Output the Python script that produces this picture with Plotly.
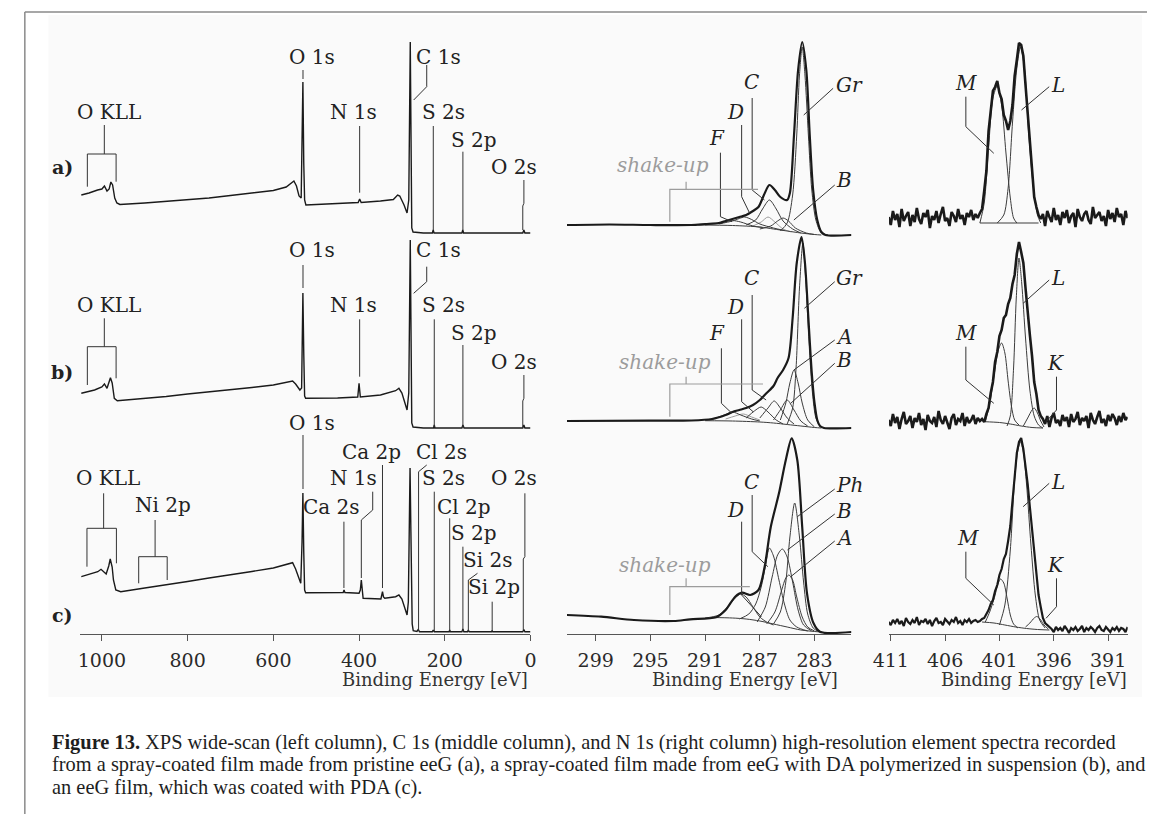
import plotly.graph_objects as go

W, H = 1153, 814

# ---------------- tick labels ----------------
WS_TICKS = [1000, 800, 600, 400, 200, 0]
C1S_TICKS = [299, 295, 291, 287, 283]
N1S_TICKS = [411, 406, 401, 396, 391]

# stacking offsets (arb. intensity units) for spectra a), b), c)
WS_OFFSET = [401, 206, 2]
C1S_OFFSET = [399, 206, 2]
N1S_OFFSET = [411, 206, 4]

# ---------------- wide scans: (binding energy eV, intensity) ----------------
WS_A = [(1048, 38), (1030, 40), (1010, 43), (1000, 44), (994, 47), (988, 42), (983, 44), (979, 51), (975, 48),
        (970, 35), (965, 30), (958, 28.5), (900, 30), (850, 31.5), (800, 33.5), (750, 35), (700, 37.5), (650, 40),
        (600, 42.5), (570, 46), (558, 50), (552, 52), (546, 47), (540, 37), (535, 35), (533, 90), (531, 151),
        (529, 70), (527, 33), (524, 28), (500, 28.5), (450, 29.5), (402, 30.5), (398.6, 34), (395, 30.5),
        (350, 32), (320, 33.5), (310, 38), (305, 37), (295, 28), (288, 20), (284, 33), (282, 100), (280.5, 191),
        (279, 110), (277, 5), (274, 1), (250, 0), (229, 0), (227, 3), (225, 0), (160, 0), (158, 3), (156, 0),
        (18, 0), (15.5, 3), (13, 0), (0, 0)]
WS_B = [(1048, 34.7), (1017, 38), (1000, 41), (994, 44), (988, 39.7), (980, 50.3), (976, 45), (971, 29.7),
        (964, 27.3), (900, 29.5), (850, 31.5), (800, 34), (750, 36), (700, 38.5), (650, 40.5), (600, 43),
        (555, 47), (548, 44), (538, 38), (534, 40), (533, 80), (531, 135), (529, 75), (527, 32), (524.6, 29.7),
        (450, 30), (403, 31), (400, 44.7), (397, 31), (350, 33), (314.6, 37.3), (307, 39.7), (300, 35),
        (288, 18), (284, 35), (282, 100), (280.5, 188), (279, 110), (277, 5), (274, 1), (250, 0), (226, 0),
        (224.5, 3), (223, 0), (160, 0), (157.7, 3), (155, 0), (18, 0), (15.5, 3), (13, 0), (0, 0)]
WS_C = [(1048, 55.3), (1020, 59), (1009.6, 60.3), (1002, 62.7), (996, 60), (990, 58), (984, 66), (980.5, 73),
        (976, 65), (973, 52), (967.5, 42), (956, 40.3), (900, 44), (850, 47), (800, 50.5), (750, 54), (700, 57),
        (650, 60.5), (600, 64), (565, 68), (555, 69.3), (548, 63), (540, 52), (536, 48.7), (533, 90), (531, 139),
        (529, 80), (527, 42), (524.6, 39.3), (444.5, 39.3), (437, 39.5), (435, 42), (433, 39.5), (400, 38.7),
        (397, 42), (394.7, 52), (392, 40), (390.5, 33.7), (349, 33), (347.5, 35), (345.3, 40.3), (343, 35),
        (340, 33.7), (314.6, 35.3), (307, 37), (300, 33), (292, 22), (288, 17), (285, 30), (283, 90), (281, 164),
        (279, 100), (276, 8), (273.6, 1.3), (265, 0.5), (262, 2.5), (259, 0.3), (229, 0.3), (226.8, 2),
        (224.5, 0.3), (190, 0.3), (188.5, 2), (187, 0.3), (160, 0.3), (157.7, 3), (155.5, 0.3), (147, 0.3),
        (145, 2), (143, 0.3), (91, 0.3), (89.4, 1.5), (88, 0.3), (18, 0.3), (15.5, 2.5), (13, 0.3), (0, 0.3)]

# ---------------- C 1s spectra: envelope + fitted components ----------------
C1S_A_ENV = [(301.1, 10), (298, 10.5), (295, 10), (292, 10), (291, 11), (290, 12), (289.5, 14), (289, 16),
             (288.5, 18), (288, 20), (287.5, 24), (287.1, 28), (286.7, 40), (286.3, 50), (285.9, 45),
             (285.5, 38), (285.0, 35), (284.8, 42), (284.5, 100), (284.2, 165), (283.9, 193), (283.6, 165),
             (283.35, 100), (283.1, 45), (282.8, 15), (282.5, 3), (282.2, 0), (280.3, 0)]
C1S_A_GR = [(285.5, 4), (285, 12), (284.6, 40), (284.3, 100), (284.1, 160), (283.9, 188), (283.7, 160),
            (283.45, 100), (283.2, 45), (282.9, 15), (282.5, 2), (282, 0)]
C1S_A_B = [(287, 6), (286.2, 9), (285.7, 14), (285.3, 17), (284.9, 14), (284.4, 7), (283.6, 2), (283, 0.5)]
C1S_A_C = [(288, 10), (287.3, 15), (286.8, 26), (286.3, 35), (285.8, 26), (285.3, 14), (284.6, 6), (284, 2)]
C1S_A_D = [(290, 11), (289, 14), (288.5, 16.5), (288.1, 18), (287.6, 15.5), (287, 11), (286, 7), (285.2, 4.5)]
C1S_A_F = [(291, 10), (290, 12), (289.5, 13.5), (289, 14.5), (288.4, 13), (287.5, 9), (286.8, 7.5)]
C1S_A_SHAKE = [(287.5, 9), (286.9, 13), (286.4, 18), (285.9, 13), (285.3, 6), (284.7, 3)]
C1S_A_BG = [(291.5, 10), (289, 9.5), (287, 8), (286, 6), (285, 4), (284, 2), (283, 0.5), (282.5, 0)]

C1S_B_ENV = [(301.1, 7), (295, 7.3), (292, 7.5), (290.5, 9), (289.5, 13), (289, 16), (288.5, 18), (288, 20),
             (287.5, 23), (287, 28), (286.5, 35), (286, 42), (285.7, 50), (285.3, 58), (284.9, 70),
             (284.6, 110), (284.3, 165), (283.95, 191), (283.7, 165), (283.45, 110), (283.2, 55), (283.0, 25),
             (282.8, 8), (282.6, 2), (282.3, 0), (280.3, 0)]
C1S_B_GR = [(285, 4), (284.6, 20), (284.35, 60), (284.1, 140), (283.85, 185), (283.65, 150), (283.4, 85),
            (283.15, 35), (282.9, 10), (282.6, 2), (282.3, 0)]
C1S_B_A = [(285.5, 8), (285.1, 25), (284.8, 45), (284.5, 58), (284.2, 45), (283.9, 25), (283.5, 8), (283, 1)]
C1S_B_B = [(286, 8), (285.5, 18), (285, 28), (284.5, 18), (284, 7), (283.5, 2)]
C1S_B_C = [(287, 10), (286.4, 20), (285.95, 27), (285.5, 20), (285, 10), (284.5, 4)]
C1S_B_D = [(288, 10), (287.4, 17), (286.9, 21), (286.4, 16), (285.8, 8), (285.3, 4)]
C1S_B_F = [(290.5, 8.5), (289.6, 13), (289, 16), (288.4, 13), (287.6, 9), (287, 7)]
C1S_B_SHAKE = [(289.5, 9), (288.8, 12), (288.2, 14), (287.6, 11), (287, 8)]
C1S_B_BG = [(291, 7.3), (289, 7), (287, 6), (286, 5), (285, 3.5), (284, 2), (283, 0.5), (282.5, 0)]

C1S_C_ENV = [(301.1, 17), (298.6, 15.3), (296.2, 12), (293.3, 11), (292.1, 12.7), (290.2, 14.7), (289.5, 22),
             (288.8, 35.3), (288.3, 39.3), (287.7, 37), (287.1, 42), (286.65, 65), (286.2, 105), (285.6, 138.7),
             (285.1, 172), (284.67, 193.7), (284.26, 172), (283.9, 105), (283.55, 38.7), (283.07, 8.7),
             (282.6, 0.3), (280.3, 0)]
C1S_C_C = [(288.5, 13), (287.8, 18), (287.3, 28), (286.9, 45), (286.6, 65), (286.3, 84), (286.0, 76), (285.6, 52),
           (285.2, 28), (284.8, 12), (284.3, 5), (283.5, 1)]
C1S_C_B = [(287.2, 10), (286.6, 25), (286.1, 55), (285.7, 77), (285.35, 83), (285.0, 75), (284.6, 50), (284.2, 22),
           (283.8, 7), (283.2, 1)]
C1S_C_A = [(286.5, 8), (285.9, 20), (285.4, 42), (285.1, 54), (284.87, 57), (284.6, 52), (284.3, 35), (283.9, 15),
           (283.5, 5), (283, 1)]
C1S_C_PH = [(286, 8), (285.5, 20), (285.1, 50), (284.8, 95), (284.45, 129), (284.1, 95), (283.8, 50), (283.5, 18),
            (283.1, 4), (282.7, 0.5)]
C1S_C_D = [(291, 14), (290, 17), (289.3, 26), (288.8, 34), (288.4, 38), (288, 35), (287.5, 25), (287, 15),
           (286.5, 10), (286, 7)]
C1S_C_BG = [(290.5, 14.5), (289, 14), (288, 13), (287, 11), (286, 8), (285, 5), (284, 2), (283, 0.5), (282.5, 0)]

# ---------------- N 1s spectra: counts on a 0.2 eV grid starting at 411.2 eV ----------------
N1S_START, N1S_STEP = 411.2, 0.2
N1S_A = ([6, -2, 12, 3, 9, -4, 14, 2, 7, 11, -3, 8, 1, 15, 4, -1, 10, 6, 13, -5, 7, 3, 12, 0, 9, 16, 2, 5, -3, 11,
          7, 1, 14, 4, 8, -2, 10, 6, 13, 3, 9, 5]
         + [10, 14, 32, 52, 92, 112, 132, 136, 142, 130, 124, 108, 102, 93, 102, 118, 147, 163, 180, 178, 167, 138,
            112, 78, 52, 26, 16, 8]
         + [4, 9, -3, 12, 6, 1, 15, 3, 8, -2, 11, 5, 13, 0, 7, 10, -4, 14, 6, 2, 9, 12, 3, -1, 16, 5, 8, 11, 2, 7,
            -3, 13, 4, 10, 1, 15, 6, 9, -2, 12, 5])
N1S_B = ([8, 2, 14, 5, 11, -1, 9, 16, 4, 7, 12, 0, 10, 6, 15, 3, 9, -2, 13, 7, 5, 11, 1, 17, 8, 4, 12, 6, -1, 10,
          14, 3, 9, 7, 15, 2, 11, 5, 8, 13, 4, 10, 7, 9]
         + [6, 14, 20, 35, 46, 66, 76, 92, 98, 110, 113, 124, 130, 144, 153, 174, 186, 176, 165, 140, 120, 93, 72,
            46, 34, 18, 12]
         + [9, 4, 12, 1, 10, 15, 5, 8, 2, 13, 7, 11, 1, 14, 6, 9, 16, 3, 10, 7, 12, 0, 15, 8, 4, 11, 17, 5, 9, 2,
            13, 7, 14, 10, 3, 12, 6, 15, 8, 11])
N1S_C = ([8, 5, 10, 7, 11, 6, 9, 4, 12, 8, 6, 10, 7, 13, 5, 9, 8, 11, 6, 10, 4, 9, 12, 7, 8, 5, 11, 9, 6, 10, 8,
          13, 7, 9, 5, 10, 8, 11, 7, 9, 10, 8]
         + [9, 11, 12, 16, 20, 26, 30, 39, 45, 55, 61, 71, 76, 89, 104, 129, 155, 177, 188, 192, 181, 165, 146,
            123, 101, 76, 54, 35, 23, 12, 7, 5, 2]
         + [1, -2, 3, 0, 2, -1, 4, 1, -3, 2, 0, 3, -1, 1, 4, -2, 2, 0, 3, 1, -2, 2, 4, 0, -1, 3, 1, -2, 2, 0, 3, -1,
            2, 1, -2, 3])

N1S_A_M = [(402.8, 0), (402.4, 20), (402.0, 75), (401.6, 125), (401.2, 137), (400.8, 118), (400.4, 70), (400.0, 25),
           (399.7, 5), (399.4, 0)]
N1S_A_L = [(401.2, 0), (400.6, 8), (400.2, 35), (399.8, 100), (399.4, 155), (399.06, 176), (398.7, 155),
           (398.3, 88), (397.9, 38), (397.5, 8), (397.2, 0)]
N1S_A_BASE = [(402.8, 0), (397.4, 0)]
N1S_B_M = [(402.3, 6), (401.9, 24), (401.5, 52), (401.1, 78), (400.8, 85), (400.5, 75), (400.2, 47), (399.9, 22),
           (399.6, 8), (399.2, 3)]
N1S_B_L = [(400.3, 2), (400.0, 12), (399.7, 60), (399.45, 130), (399.2, 170), (398.95, 145), (398.6, 90),
           (398.2, 38), (397.8, 12), (397.4, 3), (397.0, 0)]
N1S_B_K = [(398.8, 2), (398.4, 10), (398.0, 18), (397.8, 20), (397.5, 15), (397.2, 7), (396.9, 1)]
N1S_B_BASE = [(402.4, 6.3), (401, 5.5), (400, 4), (399, 2), (398, 0.5), (397, 0)]
N1S_C_L = [(401.0, 5), (400.5, 25), (400.0, 80), (399.6, 150), (399.3, 180), (399.06, 188), (398.8, 178),
           (398.5, 145), (398.1, 85), (397.7, 35), (397.3, 10), (396.8, 2)]
N1S_C_M = [(402.3, 8), (401.9, 18), (401.5, 31), (401.1, 47), (400.9, 51), (400.6, 47), (400.3, 32), (400.0, 15),
           (399.7, 6), (399.3, 2)]
N1S_C_K = [(398.6, 3), (398.2, 7), (397.8, 12), (397.55, 13.5), (397.2, 10), (396.9, 5), (396.5, 1)]
N1S_C_BASE = [(402.6, 8), (401.5, 7), (400.5, 5), (399.5, 3), (398.5, 1.5), (397.5, 0.5), (396.4, 0)]

# ---------------- peak labels (text, energy, stacked intensity) ----------------
WS_LABELS = [
    ("O KLL", 982.8, 522.3), ("O 1s", 509.3, 577.3), ("N 1s", 414, 522.3), ("C 1s", 215.3, 577.3),
    ("S 2s", 203.9, 522.3), ("S 2p", 131.3, 494), ("O 2s", 39.6, 467.3),
    ("O KLL", 982.8, 329), ("O 1s", 509.3, 384), ("N 1s", 414, 329), ("C 1s", 215.3, 384),
    ("S 2s", 203.9, 329), ("S 2p", 131.3, 300.7), ("O 2s", 39.6, 272.3),
    ("O KLL", 986.7, 155.7), ("Ni 2p", 856.8, 129), ("O 1s", 509.3, 210.7), ("Ca 2s", 463.5, 127.3),
    ("N 1s", 414, 155.7), ("Ca 2p", 371.8, 182.3), ("Cl 2s", 207.8, 182.3), ("S 2s", 203.9, 155.7),
    ("Cl 2p", 154.2, 127.3), ("S 2p", 131.3, 100.7), ("Si 2s", 100.8, 74), ("Si 2p", 85.4, 47.3),
    ("O 2s", 39.6, 155.7),
]
WS_LEADERS = [
    [(1033.9, 447.3), (1033.9, 480), (966.8, 480), (966.8, 452.3)], [(994.3, 480), (994.3, 509)],
    [(530.8, 564), (530.8, 555)], [(398.6, 508), (398.6, 441.3)], [(242.1, 569), (242.1, 547.3), (272.6, 534)],
    [(226.8, 508), (226.8, 404)], [(157.7, 482.3), (157.7, 404)], [(15.4, 454), (15.4, 430.7), (18, 428), (18, 404)],
    [(1033.9, 249), (1033.9, 287.3), (966.8, 287.3), (966.8, 255.7)], [(994.3, 287.3), (994.3, 315.7)],
    [(530.8, 369), (530.8, 346)], [(398.6, 314.7), (398.6, 257.3)], [(242.1, 367.3), (242.1, 352.3), (272.6, 340.7)],
    [(224.5, 314.7), (224.5, 207)], [(157.7, 289), (157.7, 207)], [(15.4, 259), (15.4, 235.7), (18, 233), (18, 207)],
    [(1034.8, 67.3), (1034.8, 105.7), (966.1, 105.7), (966.1, 70.7)], [(995.9, 105.7), (995.9, 140.7)],
    [(914.1, 50.7), (914.1, 77.3), (847.6, 77.3), (847.6, 54)], [(875.8, 77.3), (875.8, 114)],
    [(530.8, 199), (530.8, 145)], [(435.3, 112.3), (435.3, 46)], [(368.1, 142.3), (368.1, 124), (394.7, 114), (394.7, 56)],
    [(345.3, 169), (345.3, 46)], [(242.1, 169), (261.1, 162.3), (261.1, 3)], [(224.5, 142.3), (224.5, 3)],
    [(188.5, 115.7), (188.5, 3)], [(157.7, 87.3), (157.7, 3)], [(123.7, 60.7), (145, 54), (145, 3)],
    [(89.4, 32.3), (89.4, 3)], [(13.1, 140.7), (13.1, 77.3), (16.8, 75), (16.8, 4)],
]
C1S_LABELS_CENTER = [("C", 287.61, 552.3), ("D", 288.76, 522.3), ("F", 290.12, 496),
                     ("C", 287.61, 355.7), ("D", 288.76, 327.3), ("F", 290.12, 300.7),
                     ("C", 287.61, 152.3), ("D", 288.76, 124)]
C1S_LABELS_LEFT = [("Gr", 281.55, 549), ("B", 281.55, 454),
                   ("Gr", 281.55, 355.7), ("A", 281.55, 297.3), ("B", 281.55, 274),
                   ("Ph", 281.55, 149), ("B", 281.55, 123), ("A", 281.55, 96)]
C1S_SHAKE_LABELS = [(294.1, 469), (293.9, 272.3), (293.9, 69)]
C1S_LEADERS = [
    [(287.56, 536), (287.56, 444), (286.66, 434)], [(288.33, 509), (288.33, 437.3), (287.75, 421)],
    [(289.88, 481.3), (289.88, 417.3), (289.04, 412.3)], [(281.64, 545.7), (283.79, 519)], [(281.52, 449), (284.51, 414)],
    [(287.56, 339), (287.56, 244), (286.54, 234)], [(288.33, 314.7), (288.33, 232.3), (287.49, 222.3)],
    [(289.81, 285.7), (289.81, 230.7), (289.04, 220.7)], [(281.52, 352.3), (283.74, 325.7)],
    [(281.52, 294), (284.51, 264)], [(281.52, 270.7), (284.74, 230.7)],
    [(287.56, 139), (287.56, 82.3), (286.41, 67.3)], [(288.33, 112.3), (288.33, 39), (286.89, 17.3)],
    [(281.52, 145), (284.26, 117.3)], [(281.52, 120), (284.98, 84)], [(281.52, 93), (284.74, 57.3)],
]
C1S_SHAKE_BRACKETS = [
    [(293.58, 412.3), (293.58, 444.7), (287.13, 444.7)], [(292.39, 444.7), (292.39, 452.3)],
    [(293.58, 217.3), (293.58, 250), (286.77, 250)], [(292.39, 250), (292.39, 257.3)],
    [(293.58, 19), (293.58, 47.3), (287.73, 47.3)], [(292.39, 47.3), (292.39, 55.7)],
]
N1S_LABELS_CENTER = [("M", 404.09, 550.7), ("M", 404.09, 300.7), ("K", 395.87, 270.7),
                     ("M", 403.93, 95.7), ("K", 395.87, 69)]
N1S_LABELS_LEFT = [("L", 396.45, 549), ("L", 396.45, 355.7), ("L", 396.45, 152.3)]
N1S_LEADERS = [
    [(404.09, 537.3), (404.09, 507.3), (401.52, 480.7)], [(396.42, 547.3), (398.97, 524)],
    [(404.09, 287.3), (404.09, 254), (401.52, 230.7)], [(396.42, 354), (398.82, 330.7)],
    [(395.75, 257.3), (395.75, 224), (396.71, 212.3)],
    [(404.09, 82.3), (404.09, 55.7), (401.52, 29)], [(396.42, 150.7), (398.82, 127.3)],
    [(395.75, 55.7), (395.75, 27.3), (396.71, 15.7)],
]
PANEL_TAGS = ["a)", "b)", "c)"]

# ---------------- figure ----------------
fig = go.Figure()


def add_curve(pts, offset, col, color, width, shape="linear"):
    xa, ya = ("x", "y") if col == 1 else (f"x{col}", f"y{col}")
    fig.add_trace(go.Scatter(x=[p[0] for p in pts], y=[p[1] + offset for p in pts], mode="lines",
                             line=dict(color=color, width=width, shape=shape, smoothing=0.8),
                             xaxis=xa, yaxis=ya, hoverinfo="skip", showlegend=False))


def add_lines(lines, col, color, width):
    xs, ys = [], []
    for ln in lines:
        for e, y in ln:
            xs.append(e)
            ys.append(y)
        xs.append(None)
        ys.append(None)
    xa, ya = ("x", "y") if col == 1 else (f"x{col}", f"y{col}")
    fig.add_trace(go.Scatter(x=xs, y=ys, mode="lines", line=dict(color=color, width=width),
                             xaxis=xa, yaxis=ya, hoverinfo="skip", showlegend=False))


INK = "#1a1a1a"
COMP = "#3c3c3c"
GRAY = "#9c9c9c"

# wide scans
for spec, off in zip([WS_A, WS_B, WS_C], WS_OFFSET):
    add_curve(spec, off, 1, INK, 1.4)
add_lines(WS_LEADERS, 1, "#333333", 1)

# C 1s
c1s_sets = [
    (C1S_A_BG, [C1S_A_F, C1S_A_D, C1S_A_C, C1S_A_B, C1S_A_GR], [C1S_A_SHAKE], C1S_A_ENV),
    (C1S_B_BG, [C1S_B_F, C1S_B_D, C1S_B_C, C1S_B_B, C1S_B_A, C1S_B_GR], [C1S_B_SHAKE], C1S_B_ENV),
    (C1S_C_BG, [C1S_C_D, C1S_C_C, C1S_C_B, C1S_C_A, C1S_C_PH], [], C1S_C_ENV),
]
for (bg, comps, shakes, env), off in zip(c1s_sets, C1S_OFFSET):
    for s in shakes:
        add_curve(s, off, 2, GRAY, 1, "spline")
    add_curve(bg, off, 2, COMP, 1, "spline")
    for c in comps:
        add_curve(c, off, 2, COMP, 1, "spline")
    add_curve(env, off, 2, INK, 2.2, "spline")
add_lines(C1S_LEADERS, 2, "#333333", 1)
add_lines(C1S_SHAKE_BRACKETS, 2, GRAY, 1.2)

# N 1s
n1s_sets = [
    (N1S_A, [N1S_A_BASE, N1S_A_M, N1S_A_L]),
    (N1S_B, [N1S_B_BASE, N1S_B_M, N1S_B_L, N1S_B_K]),
    (N1S_C, [N1S_C_BASE, N1S_C_M, N1S_C_L, N1S_C_K]),
]
for (counts, comps), off, lw in zip(n1s_sets, N1S_OFFSET, [2.6, 2.6, 2.2]):
    energy = [round(N1S_START - N1S_STEP * k, 2) for k in range(len(counts))]
    for c in comps:
        add_curve(c, off, 3, COMP, 1, "spline")
    add_curve(list(zip(energy, counts)), off, 3, INK, lw)
add_lines(N1S_LEADERS, 3, "#333333", 1)

# ---------------- axes ----------------
Y_DOM = [1 - 634 / H, 1 - 30 / H]
axis_common = dict(showline=True, linecolor="#555555", linewidth=1.3, ticks="outside", ticklen=6,
                   tickcolor="#555555", tickwidth=1.3, showgrid=False, zeroline=False,
                   tickfont=dict(family="DejaVu Serif", size=19, color="#2a2a2a"), ticklabelstandoff=3)
fig.update_layout(
    xaxis=dict(domain=[65.7 / W, 524.5 / W], range=[1050, 0], tickvals=WS_TICKS, anchor="y", **axis_common),
    xaxis2=dict(domain=[561.7 / W, 851.7 / W], range=[301.1, 280.3], tickvals=C1S_TICKS, anchor="y2", **axis_common),
    xaxis3=dict(domain=[890 / W, 1133.3 / W], range=[411.16, 389.2], tickvals=N1S_TICKS, anchor="y3", **axis_common),
    yaxis=dict(domain=Y_DOM, range=[0, 604], visible=False, anchor="x"),
    yaxis2=dict(domain=Y_DOM, range=[0, 604], visible=False, anchor="x2"),
    yaxis3=dict(domain=Y_DOM, range=[0, 604], visible=False, anchor="x3"),
)

# ---------------- annotations ----------------
ann = []
LBL = dict(family="DejaVu Serif", size=20, color="#222222")
ITL = dict(family="DejaVu Serif", size=20, color="#222222")
for t, e, y in WS_LABELS:
    ann.append(dict(text=t, x=e, y=y, xref="x", yref="y", showarrow=False, font=LBL,
                    xanchor="center", yanchor="middle"))
for t, e, y in C1S_LABELS_CENTER:
    ann.append(dict(text=f"<i>{t}</i>", x=e, y=y, xref="x2", yref="y2", showarrow=False, font=ITL,
                    xanchor="center", yanchor="middle"))
for t, e, y in C1S_LABELS_LEFT:
    ann.append(dict(text=f"<i>{t}</i>", x=e, y=y, xref="x2", yref="y2", showarrow=False, font=ITL,
                    xanchor="left", yanchor="middle"))
for e, y in C1S_SHAKE_LABELS:
    ann.append(dict(text="<i>shake-up</i>", x=e, y=y, xref="x2", yref="y2", showarrow=False,
                    font=dict(family="DejaVu Serif", size=20, color=GRAY), xanchor="center", yanchor="middle"))
for t, e, y in N1S_LABELS_CENTER:
    ann.append(dict(text=f"<i>{t}</i>", x=e, y=y, xref="x3", yref="y3", showarrow=False, font=ITL,
                    xanchor="center", yanchor="middle"))
for t, e, y in N1S_LABELS_LEFT:
    ann.append(dict(text=f"<i>{t}</i>", x=e, y=y, xref="x3", yref="y3", showarrow=False, font=ITL,
                    xanchor="left", yanchor="middle"))
for tag, py in zip(PANEL_TAGS, [167, 372, 615]):
    ann.append(dict(text=f"<b>{tag}</b>", x=47 / W, y=1 - py / H, xref="paper", yref="paper", showarrow=False,
                    font=dict(family="DejaVu Serif", size=19, color="#222222"), xanchor="center", yanchor="middle"))
for xr in [524.5, 840, 1135]:
    ann.append(dict(text="Binding Energy [eV]", x=xr / W, y=1 - 679 / H, xref="paper", yref="paper",
                    showarrow=False, font=dict(family="DejaVu Serif", size=18, color="#333333"),
                    xanchor="right", yanchor="middle"))
CAPTION = [
    "<b>Figure 13.</b> XPS wide-scan (left column), C 1s (middle column), and N 1s (right column) "
    "high-resolution element spectra recorded",
    "from a spray-coated film made from pristine eeG (a), a spray-coated film made from eeG with DA "
    "polymerized in suspension (b), and",
    "an eeG film, which was coated with PDA (c).",
]
for line, py in zip(CAPTION, [742, 764, 787]):
    ann.append(dict(text=line, x=35 / W, y=1 - py / H, xref="paper", yref="paper", showarrow=False,
                    font=dict(family="Liberation Serif", size=20.4, color="#1e1e1e"), xanchor="left",
                    yanchor="middle"))

shapes = [
    dict(type="rect", xref="paper", yref="paper", x0=33 / W, x1=1148 / W, y0=1 - 697 / H, y1=1 - 15 / H,
         fillcolor="#fafafa", line=dict(width=0), layer="below"),
    dict(type="line", xref="paper", yref="paper", x0=9 / W, x1=1, y0=1 - 12 / H, y1=1 - 12 / H,
         line=dict(color="#8a8a8a", width=1.5)),
    dict(type="line", xref="paper", yref="paper", x0=9 / W, x1=9 / W, y0=0, y1=1 - 12 / H,
         line=dict(color="#8a8a8a", width=1.5)),
]

fig.update_layout(width=W, height=H, margin=dict(l=0, r=0, t=0, b=0), paper_bgcolor="white",
                  plot_bgcolor="rgba(0,0,0,0)", annotations=ann, shapes=shapes, showlegend=False)

fig.write_html("out.html")
